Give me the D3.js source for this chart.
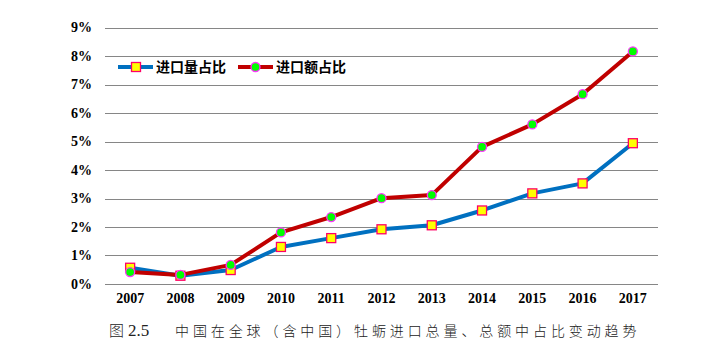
<!DOCTYPE html>
<html><head><meta charset="utf-8">
<script src="https://cdn.jsdelivr.net/npm/d3@7"></script>
<style>body{margin:0;background:#fff}svg{display:block}</style>
</head><body>
<svg id="c" width="718" height="360"></svg>
<script>
const years = ["2007","2008","2009","2010","2011","2012","2013","2014","2015","2016","2017"];
const volumeShare = [0.57,0.29,0.49,1.30,1.61,1.92,2.06,2.58,3.18,3.53,4.94];
const valueShare  = [0.42,0.32,0.67,1.81,2.35,3.01,3.12,4.81,5.60,6.66,8.16];
const yTicks = [0,1,2,3,4,5,6,7,8,9];
const seriesNames = ["进口量占比","进口额占比"];
const caption = ["图","2.5","中国在全球（含中国）牡蛎进口总量、总额中占比变动趋势"];

const svg = d3.select("#c");
const x = d3.scaleBand().domain(years).range([105,658]);
const y = d3.scaleLinear().domain([0,9]).range([284,27.5]);

// gridlines
svg.append("g").selectAll("line").data(yTicks).join("line")
  .attr("x1",105).attr("x2",658)
  .attr("y1",d=>Math.round(y(d))+0.5).attr("y2",d=>Math.round(y(d))+0.5)
  .attr("stroke","#868686").attr("stroke-width",1);

// y axis labels
const yAxis = d3.axisLeft(y).tickValues(yTicks).tickFormat(d=>d+"%").tickSize(0).tickPadding(0);
const ya = svg.append("g").attr("transform","translate(92,0)").call(yAxis);
ya.select(".domain").remove();
ya.selectAll("text").attr("font-family","'Liberation Serif','Times New Roman',serif")
  .attr("font-weight","bold").attr("font-size",14).attr("fill","#000");

// x axis labels
const xAxis = d3.axisBottom(x).tickSize(0).tickPadding(0);
const xa = svg.append("g").attr("transform","translate(0,293)").call(xAxis);
xa.select(".domain").remove();
xa.selectAll("text").attr("font-family","'Liberation Serif','Times New Roman',serif")
  .attr("font-weight","bold").attr("font-size",14).attr("fill","#000");

const cx = d=>x(d)+x.bandwidth()/2;
const line = d3.line().x(d=>cx(d[0])).y(d=>y(d[1]));
const volData = years.map((yr,i)=>[yr,volumeShare[i]]);
const valData = years.map((yr,i)=>[yr,valueShare[i]]);

svg.append("path").datum(volData).attr("d",line).attr("fill","none")
  .attr("stroke","#0070C0").attr("stroke-width",4).attr("stroke-linejoin","round");
svg.append("path").datum(valData).attr("d",line).attr("fill","none")
  .attr("stroke","#C00000").attr("stroke-width",4).attr("stroke-linejoin","round");

svg.append("g").selectAll("rect").data(volData).join("rect")
  .attr("x",d=>cx(d[0])-4.5).attr("y",d=>y(d[1])-4.5).attr("width",9).attr("height",9)
  .attr("fill","#FFFF00").attr("stroke","#FF0066").attr("stroke-width",1.3);
svg.append("g").selectAll("circle").data(valData).join("circle")
  .attr("cx",d=>cx(d[0])).attr("cy",d=>y(d[1])).attr("r",4.5)
  .attr("fill","#00FF00").attr("stroke","#FF33FF").attr("stroke-width",1.3);

// legend
const lg = svg.append("g");
const lx = [118,238];
seriesNames.forEach((name,i)=>{
  const g = lg.append("g").attr("transform",`translate(${lx[i]},67)`);
  g.append("line").attr("x1",0).attr("x2",35).attr("y1",0).attr("y2",0)
    .attr("stroke",i===0?"#0070C0":"#C00000").attr("stroke-width",4);
  if(i===0){
    g.append("rect").attr("x",13.5).attr("y",-4.5).attr("width",9).attr("height",9)
      .attr("fill","#FFFF00").attr("stroke","#FF0066").attr("stroke-width",1.3);
  } else {
    g.append("circle").attr("cx",17.5).attr("cy",0).attr("r",4.5)
      .attr("fill","#00FF00").attr("stroke","#FF33FF").attr("stroke-width",1.3);
  }
  g.append("text").attr("x",38).attr("y",5).text(name)
    .attr("font-family","'Noto Sans CJK SC',sans-serif").attr("font-weight","bold")
    .attr("font-size",14).attr("fill","#000");
});

// caption
svg.append("text").attr("x",109).attr("y",336).text(caption[0])
  .attr("font-family","'Noto Sans CJK SC',sans-serif").attr("font-weight",300)
  .attr("font-size",15).attr("fill","#222");
svg.append("text").attr("x",128).attr("y",336).text(caption[1])
  .attr("font-family","'Liberation Serif',serif").attr("font-size",17).attr("fill","#222");
svg.append("text").attr("x",175).attr("y",336).text(caption[2])
  .attr("font-family","'Noto Sans CJK SC',sans-serif").attr("font-weight",300)
  .attr("font-size",14).attr("letter-spacing",3.9).attr("fill","#222");
</script>
</body></html>
